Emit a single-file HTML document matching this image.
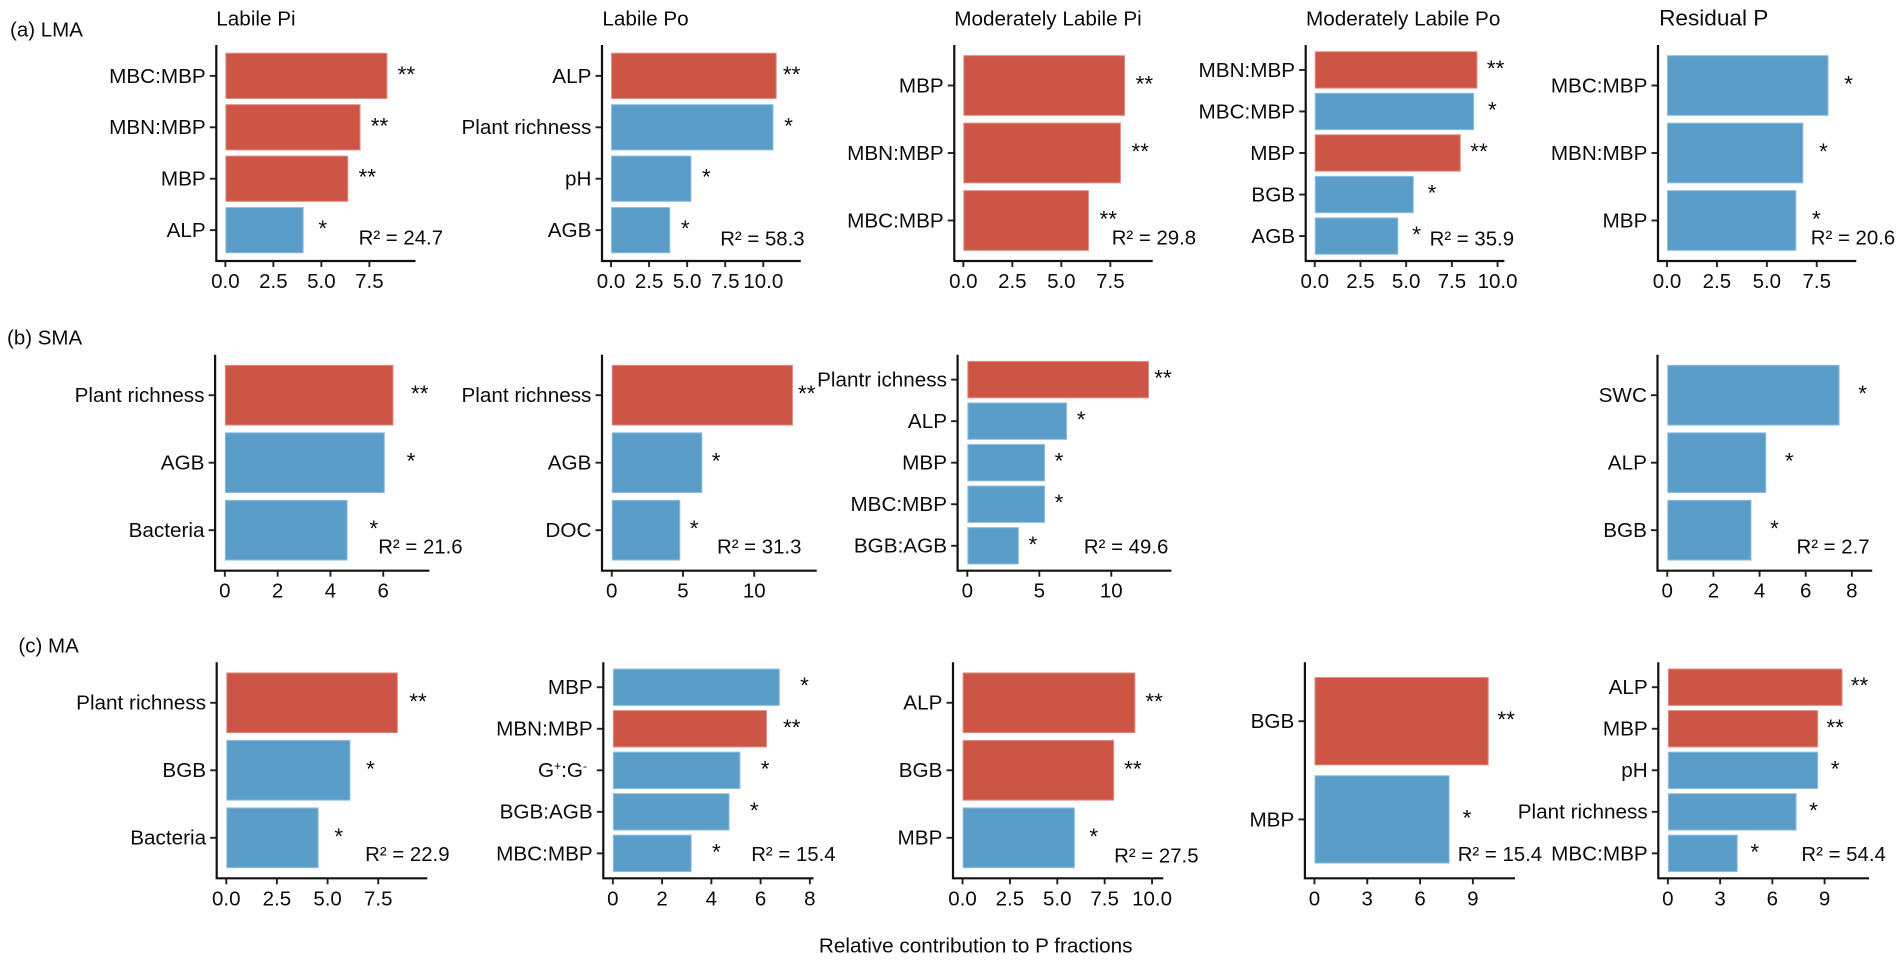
<!DOCTYPE html>
<html lang="en">
<head>
<meta charset="utf-8">
<title>Relative contribution to P fractions</title>
<style>
html,body{margin:0;padding:0;background:#fff;width:1902px;height:960px;overflow:hidden}
svg{display:block}
text{font-family:"Liberation Sans",Arial,sans-serif;fill:#0c0c0c;white-space:pre}
</style>
</head>
<body>
<svg id="chart" width="1902" height="960" viewBox="0 0 1902 960" xmlns="http://www.w3.org/2000/svg">
  <rect x="0" y="0" width="1902" height="960" fill="#ffffff"/>
  <text x="10" y="36.7" font-size="20.5">(a) LMA</text>
  <text x="7" y="344.3" font-size="20.5">(b) SMA</text>
  <text x="18.4" y="652.7" font-size="20.5">(c) MA</text>
  <text x="216.3" y="25.3" font-size="20.7">Labile Pi</text>
  <text x="602.4" y="25.3" font-size="20.7">Labile Po</text>
  <text x="954.3" y="25.3" font-size="20.7">Moderately Labile Pi</text>
  <text x="1306" y="25.3" font-size="20.7">Moderately Labile Po</text>
  <text x="1659.1" y="25.3" font-size="22.6">Residual P</text>
  <text x="975.7" y="952.7" font-size="20.7" text-anchor="middle">Relative contribution to P fractions</text>
</svg>
<script>
// Row (a) LMA
const lmaLabilePiCategories = ["MBC:MBP", "MBN:MBP", "MBP", "ALP"];
const lmaLabilePiValues = [8.44, 7.04, 6.4, 4.08];
const lmaLabilePiStars = ["**", "**", "**", "*"];
const lmaLabilePiTicks = ["0.0", "2.5", "5.0", "7.5"];

const lmaLabilePoCategories = ["ALP", "Plant richness", "pH", "AGB"];
const lmaLabilePoValues = [10.88, 10.67, 5.28, 3.89];
const lmaLabilePoStars = ["**", "*", "*", "*"];
const lmaLabilePoTicks = ["0.0", "2.5", "5.0", "7.5", "10.0"];

const lmaModPiCategories = ["MBP", "MBN:MBP", "MBC:MBP"];
const lmaModPiValues = [8.25, 8.04, 6.41];
const lmaModPiStars = ["**", "**", "**"];
const lmaModPiTicks = ["0.0", "2.5", "5.0", "7.5"];

const lmaModPoCategories = ["MBN:MBP", "MBC:MBP", "MBP", "BGB", "AGB"];
const lmaModPoValues = [8.9, 8.72, 7.99, 5.42, 4.57];
const lmaModPoStars = ["**", "*", "**", "*", "*"];
const lmaModPoTicks = ["0.0", "2.5", "5.0", "7.5", "10.0"];

const lmaResidualCategories = ["MBC:MBP", "MBN:MBP", "MBP"];
const lmaResidualValues = [8.09, 6.83, 6.48];
const lmaResidualStars = ["*", "*", "*"];
const lmaResidualTicks = ["0.0", "2.5", "5.0", "7.5"];

// Row (b) SMA
const smaLabilePiCategories = ["Plant richness", "AGB", "Bacteria"];
const smaLabilePiValues = [6.39, 6.06, 4.65];
const smaLabilePiStars = ["**", "*", "*"];
const smaLabilePiTicks = ["0", "2", "4", "6"];

const smaLabilePoCategories = ["Plant richness", "AGB", "DOC"];
const smaLabilePoValues = [12.72, 6.36, 4.81];
const smaLabilePoStars = ["**", "*", "*"];
const smaLabilePoTicks = ["0", "5", "10"];

const smaModPiCategories = ["Plantr ichness", "ALP", "MBP", "MBC:MBP", "BGB:AGB"];
const smaModPiValues = [12.62, 6.93, 5.4, 5.4, 3.58];
const smaModPiStars = ["**", "*", "*", "*", "*"];
const smaModPiTicks = ["0", "5", "10"];

const smaResidualCategories = ["SWC", "ALP", "BGB"];
const smaResidualValues = [7.47, 4.29, 3.65];
const smaResidualStars = ["*", "*", "*"];
const smaResidualTicks = ["0", "2", "4", "6", "8"];

// Row (c) MA
const maLabilePiCategories = ["Plant richness", "BGB", "Bacteria"];
const maLabilePiValues = [8.47, 6.13, 4.56];
const maLabilePiStars = ["**", "*", "*"];
const maLabilePiTicks = ["0.0", "2.5", "5.0", "7.5"];

const maLabilePoCategories = ["MBP", "MBN:MBP", "G^+:G^- ", "BGB:AGB", "MBC:MBP"];
const maLabilePoValues = [6.78, 6.26, 5.18, 4.74, 3.2];
const maLabilePoStars = ["*", "**", "*", "*", "*"];
const maLabilePoTicks = ["0", "2", "4", "6", "8"];

const maModPiCategories = ["ALP", "BGB", "MBP"];
const maModPiValues = [9.12, 8, 5.93];
const maModPiStars = ["**", "**", "*"];
const maModPiTicks = ["0.0", "2.5", "5.0", "7.5", "10.0"];

const maModPoCategories = ["BGB", "MBP"];
const maModPoValues = [9.9, 7.68];
const maModPoStars = ["**", "*"];
const maModPoTicks = ["0", "3", "6", "9"];

const maResidualCategories = ["ALP", "MBP", "pH", "Plant richness", "MBC:MBP"];
const maResidualValues = [10.03, 8.63, 8.63, 7.39, 4.01];
const maResidualStars = ["**", "**", "*", "*", "*"];
const maResidualTicks = ["0", "3", "6", "9"];

// R-squared values printed in each panel
const r2Values = ["24.7", "58.3", "29.8", "35.9", "20.6", "21.6", "31.3", "49.6", "2.7", "22.9", "15.4", "27.5", "15.4", "54.4"];

// Frame geometry of each panel (not data)
const ROW_A = {top: 45, bottom: 261};
const ROW_B = {top: 354.7, bottom: 570.7};
const ROW_C = {top: 662.3, bottom: 878.3};

const RED = "#cd5546";
const BLUE = "#5a9dc9";
const RED_EDGE = "#df9085";
const BLUE_EDGE = "#93bfdc";

const panels = [
  {id:"lma-labile-pi", row:ROW_A, left:216.3, right:415.5, dmax:9.43, cats:lmaLabilePiCategories, vals:lmaLabilePiValues, stars:lmaLabilePiStars, ticks:lmaLabilePiTicks, gap:19, r2x:358.6, r2y:244.3},
  {id:"lma-labile-po", row:ROW_A, left:602, right:800.8, dmax:11.87, cats:lmaLabilePoCategories, vals:lmaLabilePoValues, stars:lmaLabilePoStars, ticks:lmaLabilePoTicks, gap:15, r2x:720.2, r2y:245.7},
  {id:"lma-mod-pi", row:ROW_A, left:954.3, right:1152.7, dmax:9.2, cats:lmaModPiCategories, vals:lmaModPiValues, stars:lmaModPiStars, ticks:lmaModPiTicks, gap:19.3, r2x:1111.7, r2y:244.3},
  {id:"lma-mod-po", row:ROW_A, left:1305.7, right:1504.4, dmax:9.88, cats:lmaModPoCategories, vals:lmaModPoValues, stars:lmaModPoStars, ticks:lmaModPoTicks, gap:18.2, r2x:1429.6, r2y:245.7},
  {id:"lma-residual", row:ROW_A, left:1658, right:1856.3, dmax:9.03, cats:lmaResidualCategories, vals:lmaResidualValues, stars:lmaResidualStars, ticks:lmaResidualTicks, gap:20, r2x:1810.8, r2y:244.3},
  {id:"sma-labile-pi", row:ROW_B, left:215.1, right:429.4, dmax:7.38, cats:smaLabilePiCategories, vals:smaLabilePiValues, stars:smaLabilePiStars, ticks:smaLabilePiTicks, gap:26.2, r2x:378.2, r2y:553.3},
  {id:"sma-labile-po", row:ROW_B, left:602, right:816.7, dmax:13.7, cats:smaLabilePoCategories, vals:smaLabilePoValues, stars:smaLabilePoStars, ticks:smaLabilePoTicks, gap:13.8, r2x:717, r2y:553.3},
  {id:"sma-mod-pi", row:ROW_B, left:957.6, right:1171.4, dmax:13.5, cats:smaModPiCategories, vals:smaModPiValues, stars:smaModPiStars, ticks:smaModPiTicks, gap:14, r2x:1083.9, r2y:553.3},
  {id:"sma-residual", row:ROW_B, left:1657.5, right:1872.2, dmax:8.46, cats:smaResidualCategories, vals:smaResidualValues, stars:smaResidualStars, ticks:smaResidualTicks, gap:23, r2x:1796.5, r2y:553.3},
  {id:"ma-labile-pi", row:ROW_C, left:216.7, right:427.3, dmax:9.45, cats:maLabilePiCategories, vals:maLabilePiValues, stars:maLabilePiStars, ticks:maLabilePiTicks, gap:20.1, r2x:365.1, r2y:861},
  {id:"ma-labile-po", row:ROW_C, left:603.3, right:813.5, dmax:7.76, cats:maLabilePoCategories, vals:maLabilePoValues, stars:maLabilePoStars, ticks:maLabilePoTicks, gap:24.7, r2x:751.2, r2y:861},
  {id:"ma-mod-pi", row:ROW_C, left:953, right:1163.3, dmax:10.09, cats:maModPiCategories, vals:maModPiValues, stars:maModPiStars, ticks:maModPiTicks, gap:18.8, r2x:1114.1, r2y:862.3},
  {id:"ma-mod-po", row:ROW_C, left:1304.9, right:1515, dmax:10.85, cats:maModPoCategories, vals:maModPoValues, stars:maModPoStars, ticks:maModPoTicks, gap:17.4, r2x:1457.7, r2y:861},
  {id:"ma-residual", row:ROW_C, left:1658.3, right:1869, dmax:11, cats:maResidualCategories, vals:maResidualValues, stars:maResidualStars, ticks:maResidualTicks, gap:17, r2x:1801.4, r2y:861}
];

const svg = document.getElementById("chart");
const NS = "http://www.w3.org/2000/svg";

function make(tag, attrs, parent, content) {
  const el = document.createElementNS(NS, tag);
  for (const k in attrs) el.setAttribute(k, attrs[k]);
  if (content !== undefined) el.textContent = content;
  parent.appendChild(el);
  return el;
}

// "^x" in a category marks a small raised character (G^+:G^-).
function fillCategory(textEl, label) {
  const parts = label.split(/(\^.)/);
  let raised = false;
  parts.forEach(function (part) {
    if (!part) return;
    const isSup = part.charAt(0) === "^";
    const ts = document.createElementNS(NS, "tspan");
    ts.textContent = isSup ? part.charAt(1) : part;
    if (isSup) {
      ts.setAttribute("font-size", "12");
      ts.setAttribute("dy", "-7");
      raised = true;
    } else if (raised) {
      ts.setAttribute("dy", "7");
      raised = false;
    }
    textEl.appendChild(ts);
  });
}

function xScale(p) {
  const domainMin = -0.05 * p.dmax;
  const domainMax = 1.05 * p.dmax;
  return function (v) {
    return p.left + (v - domainMin) / (domainMax - domainMin) * (p.right - p.left);
  };
}

function yScale(p) {
  const n = p.cats.length;
  const step = (p.row.bottom - p.row.top) / (n - 1 + 1.2);
  return {
    step: step,
    center: function (i) { return p.row.top + (0.6 + i) * step; }
  };
}

panels.forEach(function (p, idx) {
  const x = xScale(p);
  const y = yScale(p);
  const g = make("g", {}, svg);
  
  

  const barH = y.step * 0.9;
  p.vals.forEach(function (v, i) {
    const cy = y.center(i);
    const isRed = p.stars[i] === "**";
    const bar = make("rect", {
      x: x(0) + 0.5, y: cy - barH / 2 + 0.5,
      width: Math.max(0, x(v) - x(0) - 1), height: barH - 1,
      fill: isRed ? RED : BLUE,
      stroke: isRed ? RED_EDGE : BLUE_EDGE,
      "stroke-width": 1
    }, g);
    
    

    const star = make("text", {
      x: x(v) + p.gap, y: cy + 6,
      "font-size": 22.5, "text-anchor": "middle"
    }, g, p.stars[i]);
    
    

    const yTick = make("line", {
      x1: p.left - 6.5, x2: p.left, y1: cy, y2: cy,
      stroke: "#222", "stroke-width": 1.9
    }, g);
    
    

    const yLabel = make("text", {
      x: p.left - 10.6, y: cy + 6.9,
      "font-size": 20.7, "text-anchor": "end"
    }, g);
    fillCategory(yLabel, p.cats[i]);
    
    
  });

  p.ticks.forEach(function (t, i) {
    const tx = x(parseFloat(t));
    const xTick = make("line", {
      x1: tx, x2: tx, y1: p.row.bottom, y2: p.row.bottom + 6,
      stroke: "#222", "stroke-width": 1.9
    }, g);
    
    

    const xLabel = make("text", {
      x: tx, y: p.row.bottom + 27,
      "font-size": 20.5, "text-anchor": "middle"
    }, g, t);
    
    
  });

  const yAxis = make("line", {
    x1: p.left, x2: p.left, y1: p.row.top, y2: p.row.bottom + 1,
    stroke: "#111", "stroke-width": 2.2
  }, g);
  
  

  const xAxis = make("line", {
    x1: p.left, x2: p.right, y1: p.row.bottom, y2: p.row.bottom,
    stroke: "#111", "stroke-width": 2.2
  }, g);
  
  

  const r2 = make("text", {
    x: p.r2x, y: p.r2y, "font-size": 20.4
  }, g, "R\u00B2 = " + r2Values[idx]);
  
  
});
</script>
</body>
</html>
